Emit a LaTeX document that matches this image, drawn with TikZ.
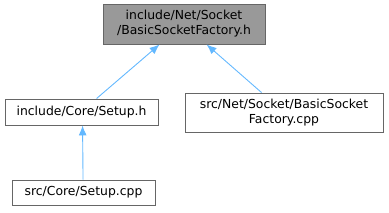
\documentclass[tikz,border=0pt]{standalone}
\usepackage{fontspec}
\setmainfont{DejaVu Sans}
\usetikzlibrary{arrows.meta,calc}
\definecolor{edgeblue}{HTML}{63B8FF}
\definecolor{boxborder}{HTML}{666666}
\definecolor{boxgray}{HTML}{999999}
\tikzset{
  filebox/.style={draw=boxborder, line width=0.9pt, fill=white, inner sep=0pt, align=center, font=\fontsize{12.4}{15}\selectfont},
  arr/.style={draw=edgeblue, line width=0.9pt, -{Latex[length=10pt,width=8pt]}}
}
\begin{document}
\begin{tikzpicture}[x=1pt,y=1pt]
\useasboundingbox (0,0) rectangle (389,212);
\node[filebox, fill=boxgray, minimum width=162pt, minimum height=40pt] (top) at (184,188) {include/Net/Socket\\/BasicSocketFactory.h};
\node[filebox, minimum width=153pt, minimum height=26pt] (setuph) at (81.5,100) {include/Core/Setup.h};
\node[filebox, minimum width=198pt, minimum height=39pt] (factcpp) at (284,99.5) {src/Net/Socket/BasicSocket\\Factory.cpp};
\node[filebox, minimum width=143pt, minimum height=25pt] (setupcpp) at (83.5,19.5) {src/Core/Setup.cpp};
\draw[arr] ($(setuph.north west)+(92,0)$) -- ($(top.south west)+(57,0)$);
\draw[arr] ($(factcpp.north west)+(77,0)$) -- ($(top.south west)+(104,0)$);
\draw[arr] ($(setupcpp.north west)+(71.5,0)$) -- ($(setuph.south west)+(78,0)$);
\end{tikzpicture}
\end{document}
